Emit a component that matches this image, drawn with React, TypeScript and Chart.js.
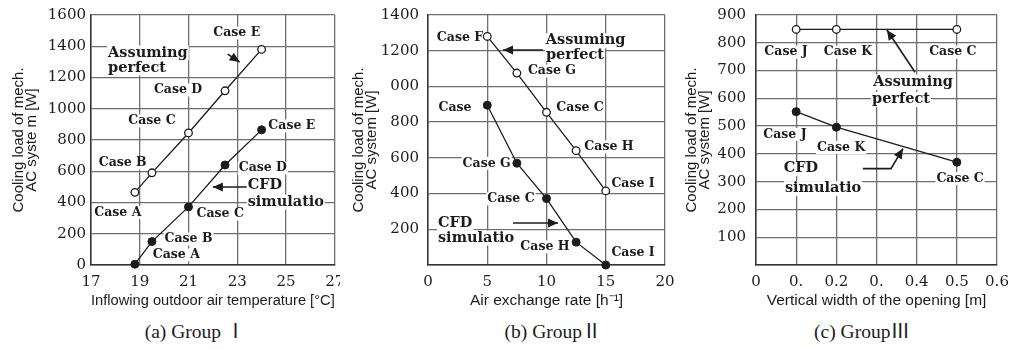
import React, { useEffect, useRef } from 'react';
import { Chart, registerables } from 'chart.js';

Chart.register(...registerables);

// ---------- Panel (a) Group I ----------
const tempTickLabels = ['17', '19', '21', '23', '25', '27'];
const loadTickLabelsA = ['0', '200', '400', '600', '800', '1000', '1200', '1400', '1600'];
const tempCases = [18.8, 19.5, 21.0, 22.5, 24.0];
const perfectLoadA = [465, 590, 845, 1115, 1380];
const cfdLoadA = [5, 150, 372, 640, 865];

// ---------- Panel (b) Group II ----------
const rateTickLabels = ['0', '5', '10', '15', '20'];
const loadTickLabelsB = ['', '200', '400', '600', '800', '000', '1200', '1400'];
const rateCases = [5, 7.5, 10, 12.5, 15];
const perfectLoadB = [1280, 1075, 855, 640, 415];
const cfdLoadB = [895, 570, 372, 128, 0];

// ---------- Panel (c) Group III ----------
const widthTickLabels = ['0', '0.', '0.2', '0.', '0.4', '0.5', '0.6'];
const loadTickLabelsC = ['', '100', '200', '300', '400', '500', '600', '700', '800', '900'];
const widthCases = [0.1, 0.2, 0.5];
const perfectLoadC = [848, 848, 848];
const cfdLoadC = [552, 496, 370];

const INK = '#1c1c1c';
const GRID = '#6e6e6e';
const SMALL_FONT = 'bold 12.5px "DejaVu Serif"';
const BIG_FONT = 'bold 14.5px "DejaVu Serif"';

type Note = { t: string; x: number; y: number; big?: boolean; align?: 'left' | 'center' | 'right' };

const notesA: Note[] = [
  { t: 'Case E', x: 22.98, y: 1485 },
  { t: 'Assuming', x: 17.7, y: 1357, big: true, align: 'left' },
  { t: 'perfect', x: 17.7, y: 1261, big: true, align: 'left' },
  { t: 'Case D', x: 20.57, y: 1120 },
  { t: 'Case C', x: 19.5, y: 922 },
  { t: 'Case E', x: 25.24, y: 890 },
  { t: 'Case B', x: 18.3, y: 653 },
  { t: 'Case D', x: 24.05, y: 620 },
  { t: 'CFD', x: 23.43, y: 512, big: true, align: 'left' },
  { t: 'simulatio', x: 23.43, y: 403, big: true, align: 'left' },
  { t: 'Case A', x: 18.1, y: 335 },
  { t: 'Case C', x: 22.3, y: 326 },
  { t: 'Case B', x: 21.0, y: 166 },
  { t: 'Case A', x: 20.5, y: 64 },
];
const arrowsA: number[][][] = [
  [[22.61, 1350], [23.1, 1299]],
  [[23.39, 499], [22.0, 499]],
];

const notesB: Note[] = [
  { t: 'Case F', x: 2.7, y: 1273 },
  { t: 'Assuming', x: 13.3, y: 1256, big: true },
  { t: 'perfect', x: 12.4, y: 1176, big: true },
  { t: 'Case G', x: 10.46, y: 1086 },
  { t: 'Case C', x: 12.83, y: 879 },
  { t: 'Case', x: 2.28, y: 879 },
  { t: 'Case H', x: 15.27, y: 661 },
  { t: 'Case G', x: 4.95, y: 569 },
  { t: 'Case I', x: 17.3, y: 453 },
  { t: 'Case C', x: 7.0, y: 370 },
  { t: 'CFD', x: 0.84, y: 235, big: true, align: 'left' },
  { t: 'simulatio', x: 0.84, y: 151, big: true, align: 'left' },
  { t: 'Case H', x: 9.87, y: 101 },
  { t: 'Case I', x: 17.3, y: 67 },
];
const arrowsB: number[][][] = [
  [[9.7, 1204], [6.33, 1204]],
  [[7.17, 235], [10.97, 235]],
];

const notesC: Note[] = [
  { t: 'Case J', x: 0.0747, y: 766 },
  { t: 'Case K', x: 0.229, y: 766 },
  { t: 'Case C', x: 0.49, y: 766 },
  { t: 'Assuming', x: 0.391, y: 658, big: true },
  { t: 'perfect', x: 0.361, y: 596, big: true },
  { t: 'Case J', x: 0.072, y: 470 },
  { t: 'Case K', x: 0.212, y: 423 },
  { t: 'CFD', x: 0.112, y: 347, big: true },
  { t: 'simulatio', x: 0.167, y: 275, big: true },
  { t: 'Case C', x: 0.508, y: 311 },
];
const arrowsC: number[][][] = [
  [[0.396, 694], [0.326, 846]],
  [[0.266, 347], [0.336, 347], [0.366, 419]],
];

const notesPlugin = {
  id: 'notes',
  beforeDatasetsDraw(chart: any, _args: any, opts: any) {
    const { ctx, scales } = chart;
    const xs = scales.x, ys = scales.y;
    ctx.save();
    for (const n of (opts.labels || []) as Note[]) {
      ctx.font = n.big ? BIG_FONT : SMALL_FONT;
      const h = n.big ? 15 : 13;
      const px = xs.getPixelForValue(n.x);
      const py = ys.getPixelForValue(n.y);
      const w = ctx.measureText(n.t).width;
      const align = n.align || 'center';
      const left = align === 'center' ? px - w / 2 : align === 'left' ? px : px - w;
      ctx.fillStyle = '#ffffff';
      ctx.fillRect(left - 1, py - h / 2, w + 2, h);
      ctx.fillStyle = INK;
      ctx.textAlign = align;
      ctx.textBaseline = 'middle';
      ctx.fillText(n.t, px, py);
    }
    ctx.restore();
  },
  afterDatasetsDraw(chart: any, _args: any, opts: any) {
    const { ctx, scales } = chart;
    const xs = scales.x, ys = scales.y;
    ctx.save();
    ctx.strokeStyle = INK;
    ctx.fillStyle = INK;
    ctx.lineWidth = 1.6;
    for (const arr of (opts.arrows || []) as number[][][]) {
      const pts = arr.map((p) => [xs.getPixelForValue(p[0]), ys.getPixelForValue(p[1])]);
      ctx.beginPath();
      pts.forEach((p, i) => (i === 0 ? ctx.moveTo(p[0], p[1]) : ctx.lineTo(p[0], p[1])));
      ctx.stroke();
      const a = pts[pts.length - 2];
      const b = pts[pts.length - 1];
      const ang = Math.atan2(b[1] - a[1], b[0] - a[0]);
      const L = 10, W = 4.5;
      ctx.beginPath();
      ctx.moveTo(b[0], b[1]);
      ctx.lineTo(b[0] - L * Math.cos(ang) + W * Math.sin(ang), b[1] - L * Math.sin(ang) - W * Math.cos(ang));
      ctx.lineTo(b[0] - L * Math.cos(ang) - W * Math.sin(ang), b[1] - L * Math.sin(ang) + W * Math.cos(ang));
      ctx.closePath();
      ctx.fill();
    }
    ctx.restore();
  },
};

type PanelSpec = {
  xs: number[];
  perfect: number[];
  cfd: number[];
  xMin: number; xMax: number; xStep: number; xLabels: string[];
  yMax: number; yStep: number; yLabels: string[];
  xTitle: string; yTitle: string[];
  yWidth: number; yTickPad: number; yTitlePad: number; padRight: number;
  notes: Note[]; arrows: number[][][];
};

function makeConfig(p: PanelSpec): any {
  const tickFont = { family: '"DejaVu Serif"', size: 15 };
  return {
    type: 'scatter',
    data: {
      datasets: [
        {
          data: p.xs.map((x, i) => ({ x, y: p.perfect[i] })),
          showLine: true,
          borderColor: INK,
          borderWidth: 1.3,
          pointRadius: 3.8,
          pointBackgroundColor: '#ffffff',
          pointBorderColor: INK,
          pointBorderWidth: 1.3,
          clip: false,
        },
        {
          data: p.xs.map((x, i) => ({ x, y: p.cfd[i] })),
          showLine: true,
          borderColor: INK,
          borderWidth: 1.3,
          pointRadius: 4,
          pointBackgroundColor: INK,
          pointBorderColor: INK,
          pointBorderWidth: 1,
          clip: false,
        },
      ],
    },
    options: {
      animation: false,
      responsive: false,
      maintainAspectRatio: false,
      devicePixelRatio: 1,
      layout: { padding: { top: 15, right: p.padRight, left: 0, bottom: 0 } },
      plugins: {
        legend: { display: false },
        tooltip: { enabled: false },
        notes: { labels: p.notes, arrows: p.arrows },
      },
      scales: {
        x: {
          type: 'linear',
          min: p.xMin,
          max: p.xMax,
          ticks: {
            stepSize: p.xStep,
            autoSkip: false,
            maxRotation: 0,
            padding: 8,
            color: INK,
            font: tickFont,
            callback: (_v: any, i: number) => p.xLabels[i],
          },
          grid: { color: GRID, lineWidth: 1.3, drawTicks: false },
          border: { color: '#333', width: 1.5 },
          title: {
            display: true,
            text: p.xTitle,
            color: INK,
            font: { family: '"Liberation Sans"', size: 15.5, lineHeight: 1.2 },
            padding: { top: 0, bottom: 0 },
          },
          afterFit(s: any) {
            s.height = 45;
            s.paddingLeft = 0;
            s.paddingRight = 0;
          },
        },
        y: {
          type: 'linear',
          min: 0,
          max: p.yMax,
          ticks: {
            stepSize: p.yStep,
            autoSkip: false,
            padding: p.yTickPad,
            color: INK,
            font: tickFont,
            callback: (_v: any, i: number) => p.yLabels[i],
          },
          grid: { color: GRID, lineWidth: 1.3, drawTicks: false },
          border: { color: '#333', width: 1.5 },
          title: {
            display: true,
            text: p.yTitle,
            color: INK,
            font: { family: '"Liberation Sans"', size: 15, lineHeight: 0.9 },
            padding: { top: p.yTitlePad, bottom: 0 },
          },
          afterFit(s: any) {
            s.width = p.yWidth;
            s.paddingTop = 0;
            s.paddingBottom = 0;
          },
        },
      },
    },
    plugins: [notesPlugin],
  };
}

const panelA: PanelSpec = {
  xs: tempCases, perfect: perfectLoadA, cfd: cfdLoadA,
  xMin: 17, xMax: 27, xStep: 2, xLabels: tempTickLabels,
  yMax: 1600, yStep: 200, yLabels: loadTickLabelsA,
  xTitle: 'Inflowing outdoor air temperature [°C]',
  yTitle: ['Cooling load of mech.', 'AC syste m [W]'],
  yWidth: 91, yTickPad: 5, yTitlePad: 12, padRight: 5,
  notes: notesA, arrows: arrowsA,
};
const panelB: PanelSpec = {
  xs: rateCases, perfect: perfectLoadB, cfd: cfdLoadB,
  xMin: 0, xMax: 20, xStep: 5, xLabels: rateTickLabels,
  yMax: 1400, yStep: 200, yLabels: loadTickLabelsB,
  xTitle: 'Air exchange rate [h⁻¹]',
  yTitle: ['Cooling load of mech.', 'AC system [W]'],
  yWidth: 88, yTickPad: 9, yTitlePad: 12, padRight: 13,
  notes: notesB, arrows: arrowsB,
};
const panelC: PanelSpec = {
  xs: widthCases, perfect: perfectLoadC, cfd: cfdLoadC,
  xMin: 0, xMax: 0.6, xStep: 0.1, xLabels: widthTickLabels,
  yMax: 900, yStep: 100, yLabels: loadTickLabelsC,
  xTitle: 'Vertical width of the opening [m]',
  yTitle: ['Cooling load of mech.', 'AC system [W]'],
  yWidth: 78, yTickPad: 10, yTitlePad: 7, padRight: 21,
  notes: notesC, arrows: arrowsC,
};

function Panel({ spec, left, width }: { spec: PanelSpec; left: number; width: number }) {
  const ref = useRef<HTMLCanvasElement>(null);
  useEffect(() => {
    if (!ref.current) return;
    const chart = new Chart(ref.current, makeConfig(spec));
    return () => chart.destroy();
  }, [spec]);
  return (
    <canvas
      ref={ref}
      width={width}
      height={310}
      style={{ position: 'absolute', left, top: 0, width, height: 310 }}
    />
  );
}

const captionStyle: React.CSSProperties = {
  position: 'absolute',
  top: 319,
  height: 26,
  lineHeight: '26px',
  width: 200,
  textAlign: 'center',
  fontFamily: '"Liberation Serif", "Noto Sans CJK JP", serif',
  fontSize: 19.5,
  color: INK,
  whiteSpace: 'nowrap',
};

export default function App() {
  return (
    <div style={{ position: 'fixed', left: 0, top: 0, width: 1018, height: 350, background: '#ffffff', overflow: 'hidden' }}>
      <Panel spec={panelA} left={0} width={340} />
      <Panel spec={panelB} left={340} width={338} />
      <Panel spec={panelC} left={678} width={340} />
      <div style={{ ...captionStyle, left: 195 - 100 }}>(a) Group Ⅰ</div>
      <div style={{ ...captionStyle, left: 553 - 100 }}>(b) GroupⅡ</div>
      <div style={{ ...captionStyle, left: 862 - 100 }}>(c) GroupⅢ</div>
    </div>
  );
}
